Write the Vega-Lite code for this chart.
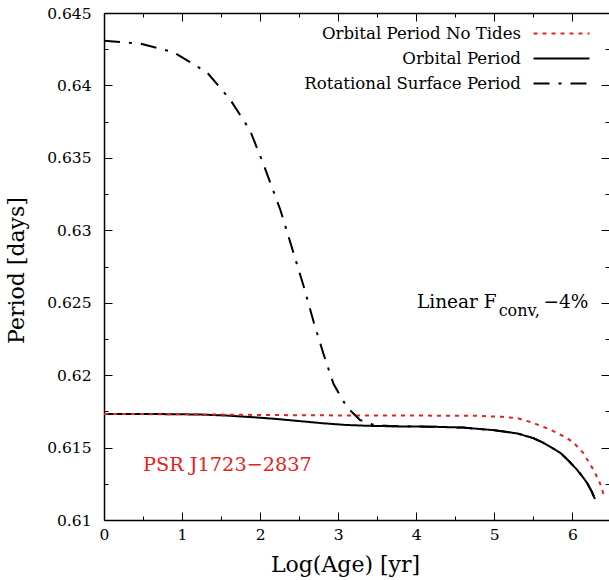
{
  "$schema": "https://vega.github.io/schema/vega-lite/v6.json",
  "width": 505,
  "height": 507,
  "autosize": "none",
  "padding": {"left": 104, "top": 13, "right": 0, "bottom": 60},
  "background": "white",
  "config": {"view": {"stroke": null}, "font": "DejaVu Serif"},
  "datasets": {
    "curves": [
      {"series": "Orbital Period", "age": 0, "period": 0.61732},
      {"series": "Orbital Period", "age": 0.5, "period": 0.61732},
      {"series": "Orbital Period", "age": 1.0, "period": 0.6173},
      {"series": "Orbital Period", "age": 1.3, "period": 0.61727},
      {"series": "Orbital Period", "age": 1.6, "period": 0.6172},
      {"series": "Orbital Period", "age": 1.9, "period": 0.6171},
      {"series": "Orbital Period", "age": 2.2, "period": 0.61698},
      {"series": "Orbital Period", "age": 2.5, "period": 0.61683},
      {"series": "Orbital Period", "age": 2.8, "period": 0.61668},
      {"series": "Orbital Period", "age": 3.1, "period": 0.61656},
      {"series": "Orbital Period", "age": 3.4, "period": 0.6165},
      {"series": "Orbital Period", "age": 3.8, "period": 0.61646},
      {"series": "Orbital Period", "age": 4.2, "period": 0.61644},
      {"series": "Orbital Period", "age": 4.6, "period": 0.61638},
      {"series": "Orbital Period", "age": 5.0, "period": 0.6162},
      {"series": "Orbital Period", "age": 5.3, "period": 0.61597},
      {"series": "Orbital Period", "age": 5.5, "period": 0.61565},
      {"series": "Orbital Period", "age": 5.61, "period": 0.61538},
      {"series": "Orbital Period", "age": 5.75, "period": 0.61495},
      {"series": "Orbital Period", "age": 5.85, "period": 0.61462},
      {"series": "Orbital Period", "age": 5.95, "period": 0.6141},
      {"series": "Orbital Period", "age": 6.06, "period": 0.61347},
      {"series": "Orbital Period", "age": 6.13, "period": 0.613},
      {"series": "Orbital Period", "age": 6.19, "period": 0.61255},
      {"series": "Orbital Period", "age": 6.25, "period": 0.61195},
      {"series": "Orbital Period", "age": 6.29, "period": 0.61145},
      {"series": "Orbital Period No Tides", "age": 0, "period": 0.61732},
      {"series": "Orbital Period No Tides", "age": 1, "period": 0.6173},
      {"series": "Orbital Period No Tides", "age": 2, "period": 0.61725},
      {"series": "Orbital Period No Tides", "age": 3, "period": 0.61722},
      {"series": "Orbital Period No Tides", "age": 4, "period": 0.61721},
      {"series": "Orbital Period No Tides", "age": 4.8, "period": 0.61719},
      {"series": "Orbital Period No Tides", "age": 5.1, "period": 0.61712},
      {"series": "Orbital Period No Tides", "age": 5.29, "period": 0.61704},
      {"series": "Orbital Period No Tides", "age": 5.5, "period": 0.6167},
      {"series": "Orbital Period No Tides", "age": 5.72, "period": 0.61623},
      {"series": "Orbital Period No Tides", "age": 5.93, "period": 0.61566},
      {"series": "Orbital Period No Tides", "age": 6.02, "period": 0.61532},
      {"series": "Orbital Period No Tides", "age": 6.14, "period": 0.61463},
      {"series": "Orbital Period No Tides", "age": 6.27, "period": 0.61347},
      {"series": "Orbital Period No Tides", "age": 6.35, "period": 0.6126},
      {"series": "Orbital Period No Tides", "age": 6.41, "period": 0.61163},
      {"series": "Rotational Surface  Period", "age": 0, "period": 0.64309},
      {"series": "Rotational Surface  Period", "age": 0.47, "period": 0.64288},
      {"series": "Rotational Surface  Period", "age": 0.89, "period": 0.6423},
      {"series": "Rotational Surface  Period", "age": 1.32, "period": 0.6409},
      {"series": "Rotational Surface  Period", "age": 1.62, "period": 0.639},
      {"series": "Rotational Surface  Period", "age": 1.87, "period": 0.6369},
      {"series": "Rotational Surface  Period", "age": 2.04, "period": 0.6346},
      {"series": "Rotational Surface  Period", "age": 2.26, "period": 0.6314},
      {"series": "Rotational Surface  Period", "age": 2.43, "period": 0.6284},
      {"series": "Rotational Surface  Period", "age": 2.56, "period": 0.6261},
      {"series": "Rotational Surface  Period", "age": 2.69, "period": 0.6236},
      {"series": "Rotational Surface  Period", "age": 2.81, "period": 0.6215},
      {"series": "Rotational Surface  Period", "age": 2.94, "period": 0.6194},
      {"series": "Rotational Surface  Period", "age": 3.11, "period": 0.6178},
      {"series": "Rotational Surface  Period", "age": 3.28, "period": 0.6169},
      {"series": "Rotational Surface  Period", "age": 3.45, "period": 0.61658},
      {"series": "Rotational Surface  Period", "age": 3.7, "period": 0.61648},
      {"series": "Rotational Surface  Period", "age": 4.2, "period": 0.61644},
      {"series": "Rotational Surface  Period", "age": 4.6, "period": 0.61638},
      {"series": "Rotational Surface  Period", "age": 5.0, "period": 0.6162},
      {"series": "Rotational Surface  Period", "age": 5.3, "period": 0.61597},
      {"series": "Rotational Surface  Period", "age": 5.5, "period": 0.61565},
      {"series": "Rotational Surface  Period", "age": 5.61, "period": 0.61538},
      {"series": "Rotational Surface  Period", "age": 5.75, "period": 0.61495},
      {"series": "Rotational Surface  Period", "age": 5.85, "period": 0.61462},
      {"series": "Rotational Surface  Period", "age": 5.95, "period": 0.6141},
      {"series": "Rotational Surface  Period", "age": 6.06, "period": 0.61347},
      {"series": "Rotational Surface  Period", "age": 6.13, "period": 0.613},
      {"series": "Rotational Surface  Period", "age": 6.19, "period": 0.61255},
      {"series": "Rotational Surface  Period", "age": 6.25, "period": 0.61195},
      {"series": "Rotational Surface  Period", "age": 6.29, "period": 0.61145}
    ],
    "psr": [{"age": 0.5, "period": 0.61336, "label": "PSR J1723\u22122837"}],
    "mainText": [
      {"age": 4.01, "period": 0.624635, "label": "Linear F"},
      {"age": 5.63, "period": 0.624635, "label": "\u22124%"}
    ],
    "subText": [{"age": 5.056, "period": 0.62406, "label": "conv,"}]
  },
  "resolve": {"axis": {"x": "independent", "y": "independent"}},
  "layer": [
    {
      "mark": {"type": "rule", "color": "#bdbdbd", "strokeWidth": 2.5},
      "encoding": {
        "y": {"datum": 0.6154, "type": "quantitative", "axis": null,
              "scale": {"domain": [0.61, 0.645], "nice": false, "zero": false}}
      }
    },
    {
      "data": {"name": "curves"},
      "mark": {"type": "line", "strokeWidth": 2, "clip": true},
      "encoding": {
        "x": {
          "field": "age", "type": "quantitative",
          "scale": {"domain": [0, 6.47], "nice": false, "zero": false},
          "axis": {
            "orient": "bottom",
            "values": [0, 0.5, 1, 1.5, 2, 2.5, 3, 3.5, 4, 4.5, 5, 5.5, 6],
            "labelExpr": "datum.value % 1 ? '' : format(datum.value, 'd')",
            "tickSize": {"condition": {"test": "datum.value % 1 !== 0", "value": -4}, "value": -8},
            "tickColor": "black", "tickWidth": 1,
            "domain": true, "domainColor": "black", "domainWidth": 1.5,
            "grid": false,
            "labelFont": "DejaVu Serif",
            "labelFontSize": 15.5, "labelColor": "black",
            "labelPadding": 15, "labelFlush": false,
            "title": "Log(Age) [yr]",
            "titleFont": "DejaVu Serif",
            "titleFontSize": 22, "titleFontWeight": "normal",
            "titleColor": "black", "titleX": 241, "titleY": 51, "titleBaseline": "alphabetic"
          }
        },
        "y": {
          "field": "period", "type": "quantitative",
          "scale": {"domain": [0.61, 0.645], "nice": false, "zero": false},
          "axis": {
            "orient": "left",
            "values": [0.61, 0.6125, 0.615, 0.6175, 0.62, 0.6225, 0.625, 0.6275, 0.63, 0.6325, 0.635, 0.6375, 0.64, 0.6425, 0.645],
            "labelExpr": "round(datum.value * 400) % 2 ? '' : format(datum.value, '.3~f') + '\u00a0'",
            "tickSize": {"condition": {"test": "round(datum.value * 400) % 2 === 1", "value": -4}, "value": -8},
            "tickColor": "black", "tickWidth": 1,
            "domain": true, "domainColor": "black", "domainWidth": 1.5,
            "grid": false,
            "labelFont": "DejaVu Serif",
            "labelFontSize": 15.5, "labelColor": "black",
            "labelPadding": 21, "labelFlush": false,
            "title": "Period [days]",
            "titleFont": "DejaVu Serif",
            "titleFontSize": 22, "titleFontWeight": "normal",
            "titleColor": "black", "titleX": -81, "titleY": 257, "titleBaseline": "alphabetic"
          }
        },
        "color": {
          "field": "series", "type": "nominal",
          "scale": {"domain": ["Orbital Period No Tides", "Orbital Period", "Rotational Surface  Period"],
                    "range": ["#e8201c", "black", "black"]},
          "legend": {
            "orient": "none", "legendX": 447, "legendY": 10, "title": null,
            "symbolType": "M-3,0H3", "symbolSize": 348, "symbolStrokeWidth": 2,
            "labelAlign": "right", "labelOffset": -51, "labelLimit": 0,
            "labelFont": "DejaVu Serif",
            "labelFontSize": 16.6, "labelColor": "black",
            "rowPadding": 5, "padding": 0
          }
        },
        "strokeDash": {
          "field": "series", "type": "nominal",
          "scale": {"domain": ["Orbital Period No Tides", "Orbital Period", "Rotational Surface  Period"],
                    "range": [[4, 5], [1, 0], [16, 9, 3, 9]]},
          "legend": {
            "orient": "none", "legendX": 447, "legendY": 10, "title": null,
            "symbolType": "M-3,0H3", "symbolSize": 348, "symbolStrokeWidth": 2,
            "labelAlign": "right", "labelOffset": -51, "labelLimit": 0,
            "labelFont": "DejaVu Serif",
            "labelFontSize": 16.6, "labelColor": "black",
            "rowPadding": 5, "padding": 0
          }
        }
      }
    },
    {
      "data": {"name": "curves"},
      "mark": {"type": "point", "opacity": 0},
      "encoding": {
        "x": {
          "field": "age", "type": "quantitative",
          "axis": {
            "orient": "top",
            "values": [0, 0.5, 1, 1.5, 2, 2.5, 3, 3.5, 4, 4.5, 5, 5.5, 6],
            "labels": false, "title": null,
            "tickSize": {"condition": {"test": "datum.value % 1 !== 0", "value": -4}, "value": -8},
            "tickColor": "black", "tickWidth": 1,
            "domain": true, "domainColor": "black", "domainWidth": 1.5, "grid": false
          }
        },
        "y": {
          "field": "period", "type": "quantitative",
          "axis": {
            "orient": "right",
            "values": [0.61, 0.6125, 0.615, 0.6175, 0.62, 0.6225, 0.625, 0.6275, 0.63, 0.6325, 0.635, 0.6375, 0.64, 0.6425, 0.645],
            "labels": false, "title": null,
            "tickSize": {"condition": {"test": "round(datum.value * 400) % 2 === 1", "value": -4}, "value": -8},
            "tickColor": "black", "tickWidth": 1,
            "domain": false, "grid": false
          }
        }
      }
    },
    {
      "data": {"name": "psr"},
      "mark": {"type": "text", "align": "left", "baseline": "alphabetic", "font": "DejaVu Serif", "fontSize": 19.3, "color": "#e8201c"},
      "encoding": {
        "x": {"field": "age", "type": "quantitative", "axis": null},
        "y": {"field": "period", "type": "quantitative", "axis": null},
        "text": {"field": "label"}
      }
    },
    {
      "data": {"name": "mainText"},
      "mark": {"type": "text", "align": "left", "baseline": "alphabetic", "font": "DejaVu Serif", "fontSize": 18.5, "color": "black"},
      "encoding": {
        "x": {"field": "age", "type": "quantitative", "axis": null},
        "y": {"field": "period", "type": "quantitative", "axis": null},
        "text": {"field": "label"}
      }
    },
    {
      "data": {"name": "subText"},
      "mark": {"type": "text", "align": "left", "baseline": "alphabetic", "font": "DejaVu Serif", "fontSize": 16, "color": "black"},
      "encoding": {
        "x": {"field": "age", "type": "quantitative", "axis": null},
        "y": {"field": "period", "type": "quantitative", "axis": null},
        "text": {"field": "label"}
      }
    }
  ]
}
